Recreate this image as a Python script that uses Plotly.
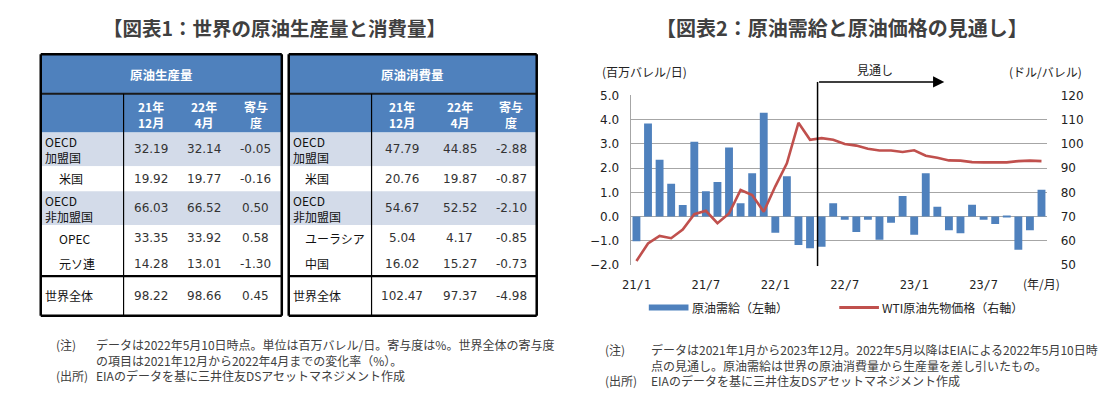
import plotly.graph_objects as go

W, H = 1118, 397

# ---------------- Data: table 1 ----------------
prod_rows = ["OECD<br>加盟国", "米国", "OECD<br>非加盟国", "OPEC", "元ソ連", "世界全体"]
prod_dec21 = [32.19, 19.92, 66.03, 33.35, 14.28, 98.22]
prod_apr22 = [32.14, 19.77, 66.52, 33.92, 13.01, 98.66]
prod_contrib = [-0.05, -0.16, 0.50, 0.58, -1.30, 0.45]

cons_rows = ["OECD<br>加盟国", "米国", "OECD<br>非加盟国", "ユーラシア", "中国", "世界全体"]
cons_dec21 = [47.79, 20.76, 54.67, 5.04, 16.02, 102.47]
cons_apr22 = [44.85, 19.87, 52.52, 4.17, 15.27, 97.37]
cons_contrib = [-2.88, -0.87, -2.10, -0.85, -0.73, -4.98]

col_headers = ["21年<br>12月", "22年<br>4月", "寄与<br>度"]

# ---------------- Data: chart ----------------
months = [f"{y}/{m}" for y in (21, 22, 23) for m in range(1, 13)]
balance = [-1.02, 3.84, 2.35, 1.36, 0.48, 3.09, 1.05, 1.43, 2.85, 0.55, 1.79, 4.29,
           -0.67, 1.67, -1.17, -1.31, -1.24, 0.55, -0.13, -0.63, -0.13, -0.95, -0.25, 0.85,
           -0.75, 1.79, 0.41, -0.56, -0.69, 0.49, -0.13, -0.31, 0.05, -1.37, -0.56, 1.11]
wti = [51.7, 58.9, 62.0, 61.1, 64.7, 71.0, 72.4, 67.3, 71.3, 81.0, 78.9, 72.0,
       82.5, 92.0, 108.7, 101.7, 102.4, 101.7, 100.0, 99.3, 98.0, 97.3, 97.3, 96.7,
       97.4, 95.1, 94.3, 93.2, 93.1, 92.5, 92.4, 92.4, 92.4, 92.9, 93.1, 92.9]
tick_labels = ["21/1", "21/7", "22/1", "22/7", "23/1", "23/7"]

BLUE = "#4F81BD"
RED = "#C0504D"
LIGHT = "#D3DBE9"
TXT = "#333333"
JP = "Noto Sans CJK JP"
NUM = "DejaVu Sans"


def X(px):
    return px / W


def Y(py):
    return 1 - py / H


shapes = []
annotations = []


def rect(x0, y0, x1, y1, fill):
    shapes.append(dict(type="rect", xref="paper", yref="paper", x0=X(x0), x1=X(x1),
                       y0=Y(y1), y1=Y(y0), fillcolor=fill, line=dict(width=0), layer="below"))


def line(x0, y0, x1, y1, color="#000000", width=1.0):
    shapes.append(dict(type="line", xref="paper", yref="paper", x0=X(x0), x1=X(x1),
                       y0=Y(y0), y1=Y(y1), line=dict(color=color, width=width)))


def text(x, y, s, size=12, color=TXT, family=JP, anchor="center", bold=False, yanchor="middle"):
    if bold:
        s = "<b>" + s + "</b>"
    annotations.append(dict(xref="paper", yref="paper", x=X(x), y=Y(y), text=s,
                            showarrow=False, xanchor=anchor, yanchor=yanchor,
                            align="left" if anchor == "left" else "center",
                            borderpad=0,
                            font=dict(size=size, color=color, family=family)))


# row geometry (pixel tops/bottoms)
row_edges = [130, 165, 191, 226, 253, 279, 320]
row_fill = [LIGHT, "white", LIGHT, "white", "white", "white"]
row_indent = [False, True, False, True, True, False]


def draw_table(left, sep, right, centers, title, rows, c1, c2, c3, indent_px):
    top, h1, h2 = 49, 90, 130
    rect(left, top, right, h2, BLUE)
    for i in range(6):
        rect(left, row_edges[i], right, row_edges[i + 1], row_fill[i])
    # borders
    line(left, h1, right, h1, "#1a1a1a", 2)
    line(sep, h1, sep, row_edges[-1], "#000000", 1.2)
    line(left, row_edges[5], right, row_edges[5], "#000000", 2.2)
    for (a, b, c, d) in [(left, top, right, top), (left, row_edges[-1], right, row_edges[-1]),
                         (left, top, left, row_edges[-1]), (right, top, right, row_edges[-1])]:
        line(a, b, c, d, "#000000", 2.5)
    text((left + right) / 2, (top + h1) / 2, title, 12.5, "white", JP, bold=True)
    for cx, hd in zip(centers, col_headers):
        text(cx, (h1 + h2) / 2 + 1, hd, 12, "white", JP, bold=True)
    for i in range(6):
        cy = (row_edges[i] + row_edges[i + 1]) / 2
        lx = left + (indent_px if row_indent[i] else 3)
        text(lx, cy, rows[i], 12, "#111111", JP, anchor="left")
        text(centers[0], cy, f"{c1[i]:.2f}", 12, TXT, NUM)
        text(centers[1], cy, f"{c2[i]:.2f}", 12, TXT, NUM)
        text(centers[2], cy, f"{c3[i]:.2f}", 12, TXT, NUM)


draw_table(32, 115.5, 275, [143, 196.5, 249], "原油生産量", prod_rows,
           prod_dec21, prod_apr22, prod_contrib, 17)
draw_table(282, 365.5, 532, [396.5, 454.5, 506.5], "原油消費量", cons_rows,
           cons_dec21, cons_apr22, cons_contrib, 15)

# titles
text(267.5, 21.5, "【図表1：世界の原油生産量と消費量】", 19.5, "#404040", JP, bold=True)
text(840, 21.5, "【図表2：原油需給と原油価格の見通し】", 20, "#404040", JP, bold=True)

# notes left (multi-line blocks)
NOTE = "#404040"
text(46, 340, "(注)<br> <br>(出所)", 12, NOTE, JP, anchor="left", yanchor="top")
text(87, 340, "データは2022年5月10日時点。単位は百万バレル/日。寄与度は%。世界全体の寄与度"
     "<br>の項目は2021年12月から2022年4月までの変化率（%）。"
     "<br>EIAのデータを基に三井住友DSアセットマネジメント作成", 12, NOTE, JP, anchor="left", yanchor="top")

# notes right
text(600, 345, "(注)<br> <br>(出所)", 12, NOTE, JP, anchor="left", yanchor="top")
text(646, 345, "データは2021年1月から2023年12月。2022年5月以降はEIAによる2022年5月10日時"
     "<br>点の見通し。原油需給は世界の原油消費量から生産量を差し引いたもの。"
     "<br>EIAのデータを基に三井住友DSアセットマネジメント作成", 12, NOTE, JP, anchor="left", yanchor="top")

# chart axis captions
text(597, 67, "(百万バレル/日)", 12, "#222222", JP, anchor="left")
annotations.append(dict(xref="paper", yref="paper", x=X(1084), y=Y(67), text="(ドル/バレル)",
                        showarrow=False, xanchor="right", yanchor="middle",
                        font=dict(size=12, color="#222222", family=JP)))
text(1041, 287, "(年/月)", 12, "#222222", JP)
text(873, 65, "見通し", 12, "#222222", JP)

# legend (drawn)
rect(645, 308.5, 685, 314.5, BLUE)
text(688, 311.5, "原油需給（左軸）", 12, "#222222", JP, anchor="left")
line(837, 311.5, 877, 311.5, RED, 3)
text(879, 311.5, "WTI原油先物価格（右軸）", 12, "#222222", JP, anchor="left")

# forecast marker line and arrow (data x coordinates)
FORECAST_X = 15.65
shapes.append(dict(type="line", xref="x", yref="paper", x0=FORECAST_X, x1=FORECAST_X,
                   y0=Y(268.5), y1=Y(77.7), line=dict(color="black", width=1.5)))
annotations.append(dict(xref="x", yref="paper", x=26.6, y=Y(77.7), ax=FORECAST_X, ay=0,
                        axref="x", ayref="pixel", showarrow=True, arrowhead=2, arrowsize=1.4,
                        arrowwidth=1.6, arrowcolor="black", text=""))

fig = go.Figure()
fig.add_trace(go.Bar(x=months, y=balance, marker=dict(color=BLUE, line=dict(width=0)),
                     width=0.68, name="原油需給（左軸）", showlegend=False))
fig.add_trace(go.Scatter(x=months, y=wti, yaxis="y2", mode="lines",
                         line=dict(color=RED, width=2.6), name="WTI原油先物価格（右軸）",
                         showlegend=False))

GRID = "#A6A6A6"
fig.update_layout(
    width=W, height=H,
    margin=dict(l=0, r=0, t=0, b=0),
    paper_bgcolor="white", plot_bgcolor="white",
    showlegend=False,
    xaxis=dict(domain=[X(626.7), X(1046.7)], type="category", range=[-0.5, 35.5],
               tickmode="array", tickvals=tick_labels, ticktext=tick_labels,
               showgrid=False, zeroline=False, showline=False,
               ticks="outside", ticklen=9, tickcolor="rgba(0,0,0,0)",
               tickfont=dict(family="DejaVu Sans Mono", size=12, color="#222222")),
    yaxis=dict(domain=[Y(267.5), Y(91.7)], range=[-2, 5], dtick=1, tickformat=".1f",
               showgrid=True, gridcolor=GRID, gridwidth=1.3,
               zeroline=True, zerolinecolor=GRID, zerolinewidth=1.3,
               showline=True, linecolor=GRID, linewidth=1.3,
               ticks="outside", ticklen=8, tickcolor="rgba(0,0,0,0)",
               tickfont=dict(family=NUM, size=12, color="#222222")),
    yaxis2=dict(overlaying="y", side="right", range=[50, 120], dtick=10,
                showgrid=False, zeroline=False, showline=False,
                ticks="outside", ticklen=10, tickcolor="rgba(0,0,0,0)",
                tickfont=dict(family=NUM, size=12, color="#222222")),
    shapes=shapes,
    annotations=annotations,
    bargap=0.3,
)

fig.write_html("out.html", config={"displayModeBar": False},
               post_script="document.body.style.margin='0px';")
